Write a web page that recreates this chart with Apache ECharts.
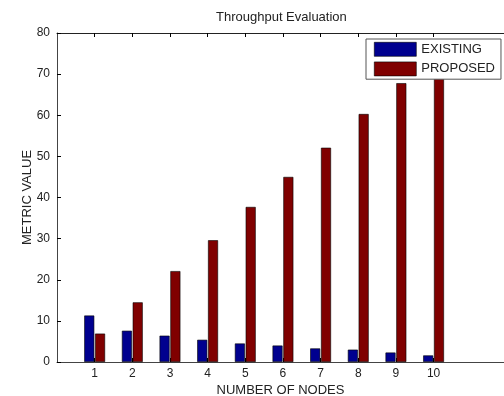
<!DOCTYPE html>
<html>
<head>
<meta charset="utf-8">
<script src="https://cdn.jsdelivr.net/npm/echarts@6/dist/echarts.min.js"></script>
<style>html,body{margin:0;padding:0;background:#fff}#c{width:504px;height:396px}</style>
</head>
<body>
<div id="c"></div>
<script>
const nodes = [1, 2, 3, 4, 5, 6, 7, 8, 9, 10];
const existing = [11.3, 7.6, 6.4, 5.4, 4.5, 4.0, 3.3, 3.0, 2.3, 1.6];
const proposed = [6.9, 14.5, 22.1, 29.6, 37.7, 45.0, 52.1, 60.3, 67.8, 75.0];
const yTicks = [0, 10, 20, 30, 40, 50, 60, 70, 80];

const font = 'Liberation Sans, Arial, sans-serif';
const axisCol = '#444';
const chart = echarts.init(document.getElementById('c'));
chart.setOption({
  animation: false,
  backgroundColor: '#fff',
  title: {
    text: 'Throughput Evaluation', left: 216, top: 11, padding: 0,
    textStyle: { fontFamily: font, fontSize: 13, fontWeight: 'normal', color: '#222' }
  },
  legend: {
    orient: 'vertical', left: 366, top: 39,
    padding: [3, 6, 3, 8], itemGap: 5,
    itemWidth: 42, itemHeight: 14, icon: 'rect',
    itemStyle: { borderWidth: 0.6, borderColor: '#000' },
    backgroundColor: '#fff', borderColor: '#555', borderWidth: 1,
    textStyle: { fontFamily: font, fontSize: 13, color: '#222' },
    data: ['EXISTING', 'PROPOSED'], z: 10
  },
  grid: { left: 57, right: 0, top: 33, bottom: 34, outerBoundsMode: 'none', containLabel: false },
  xAxis: [{
    type: 'value', min: 0, max: 11.87, position: 'bottom',
    name: 'NUMBER OF NODES', nameLocation: 'middle', nameGap: 22, nameMoveOverlap: false,
    nameTextStyle: { fontFamily: font, fontSize: 13, color: '#222' },
    axisLine: { lineStyle: { color: axisCol } },
    axisTick: { inside: true, length: 4, customValues: nodes, lineStyle: { color: '#000' } },
    axisLabel: { customValues: nodes, margin: 6, fontFamily: font, fontSize: 12, color: '#222' },
    splitLine: { show: false }
  }, {
    type: 'value', min: 0, max: 11.87, position: 'top',
    axisLine: { show: true, lineStyle: { color: '#222' } },
    axisTick: { inside: true, length: 4, customValues: nodes, lineStyle: { color: '#000' } },
    axisLabel: { show: false },
    splitLine: { show: false }
  }],
  yAxis: {
    type: 'value', min: 0, max: 80, interval: 10,
    name: 'METRIC VALUE', nameLocation: 'middle', nameGap: 23, nameMoveOverlap: false,
    nameTextStyle: { fontFamily: font, fontSize: 13, color: '#222' },
    axisLine: { show: true, lineStyle: { color: axisCol } },
    axisTick: { show: true, inside: true, length: 4, lineStyle: { color: '#000' } },
    axisLabel: { margin: 7, fontFamily: font, fontSize: 12, color: '#222',
      formatter: v => yTicks.includes(v) ? String(v) : '' },
    splitLine: { show: false }
  },
  series: [{
    name: 'EXISTING', type: 'bar', xAxisIndex: 0,
    data: nodes.map((n, i) => [n, existing[i]]),
    barWidth: 10, barGap: '8%',
    itemStyle: { color: '#00008f', borderColor: '#000', borderWidth: 0.6 }
  }, {
    name: 'PROPOSED', type: 'bar', xAxisIndex: 0,
    data: nodes.map((n, i) => [n, proposed[i]]),
    barWidth: 10, barGap: '8%',
    itemStyle: { color: '#800000', borderColor: '#000', borderWidth: 0.6 }
  }]
});
</script>
</body>
</html>
